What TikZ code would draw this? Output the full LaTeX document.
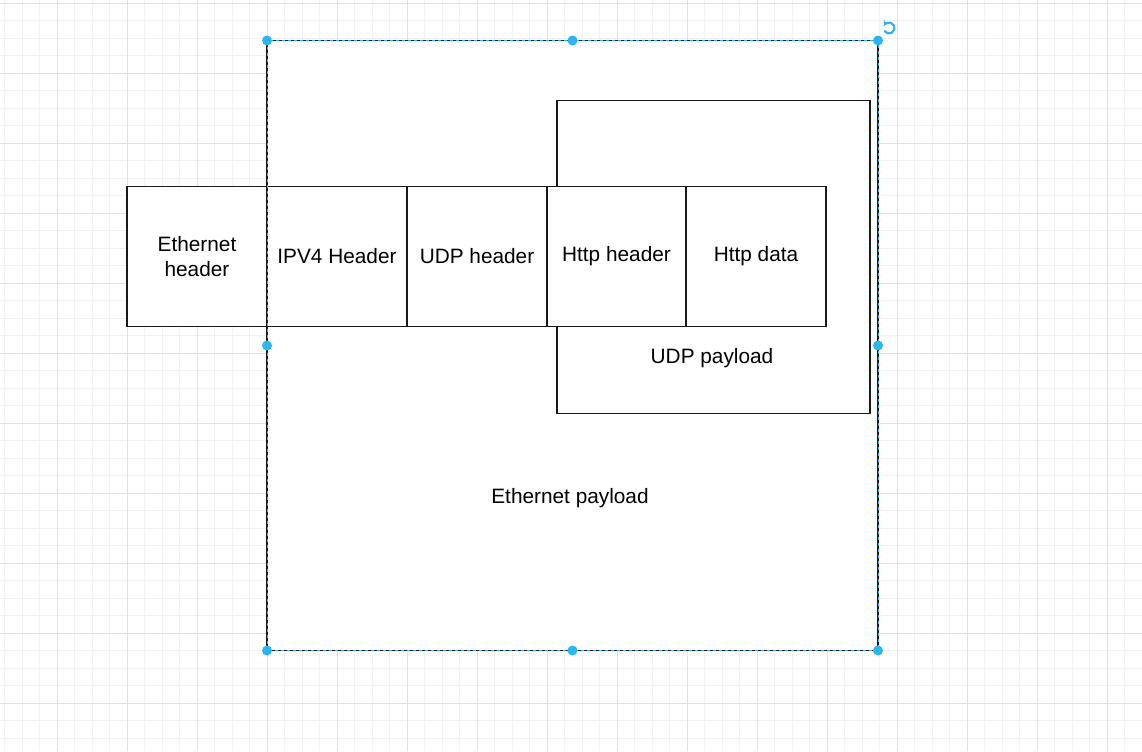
\documentclass[tikz,border=0pt]{standalone}
\usepackage{fontspec}
\setmainfont{Liberation Sans}
\usetikzlibrary{arrows.meta}
\definecolor{gridminor}{HTML}{F2F2F2}
\definecolor{gridmajor}{HTML}{E2E2E2}
\definecolor{selblue}{HTML}{29B6F2}
\tikzset{
  pktbox/.style={draw=black!90, line width=1.3pt, fill=white, inner sep=0pt, outer sep=0pt, anchor=north west},
  cell/.style={pktbox, minimum width=105pt, minimum height=105pt, align=center, font=\fontsize{15.6}{19}\selectfont},
  lbl/.style={inner sep=0pt, font=\fontsize{15.6}{19}\selectfont},
  handle/.style={circle, fill=selblue, inner sep=0pt, minimum size=7.5pt},
}
\begin{document}
\begin{tikzpicture}[x=0.75pt, y=-0.75pt]
\useasboundingbox (0,0) rectangle (1142,751);
\fill[white] (0,0) rectangle (1142,751);
% grid
\foreach \i in {0,...,65} {
  \draw[gridminor, line width=0.75pt] ({4.8+17.5*\i},0) -- ({4.8+17.5*\i},751);
}
\foreach \j in {0,...,43} {
  \draw[gridminor, line width=0.75pt] (0,{3.3+17.5*\j}) -- (1142,{3.3+17.5*\j});
}
\foreach \i in {0,...,16} {
  \draw[gridmajor, line width=0.75pt] ({57.3+70*\i},0) -- ({57.3+70*\i},751);
}
\foreach \j in {0,...,10} {
  \draw[gridmajor, line width=0.75pt] (0,{3.3+70*\j}) -- (1142,{3.3+70*\j});
}
% Ethernet payload
\node[pktbox, minimum width=458.25pt, minimum height=457.5pt] (ethpay) at (267,40.5) {};
\node[lbl] (ethpaylbl) at (570,498) {Ethernet payload};
% UDP payload
\node[pktbox, minimum width=234.75pt, minimum height=234.75pt] (udppay) at (557,100.5) {};
\node[lbl] (udppaylbl) at (712,358) {UDP payload};
% header cells
\node[cell] (ethhdr) at (127,186.5) {Ethernet\\[-0.5pt]header};
\node[cell] (ipv4) at (267,186.5) {IPV4 Header};
\node[cell] (udphdr) at (407,186.5) {UDP header};
\node[cell, minimum width=104.25pt] (httphdr) at (547,186.5) {Http header};
\node[cell] (httpdata) at (686,186.5) {Http data};
% selection overlay
\draw[selblue, line width=0.75pt, dash pattern=on 2.25pt off 2.25pt] (ethpay.north west) rectangle (ethpay.south east);
\foreach \p in {north west, north, north east, west, east, south west, south, south east} {
  \node[handle] at (ethpay.\p) {};
}
% rotate icon
\coordinate (rot) at (889,28);
\draw[selblue, line width=1.6pt, -{Stealth[length=3.5pt,width=5pt]}] ([shift={(150:5.5)}]rot) arc[start angle=150, end angle=-150, radius=5.5];
\end{tikzpicture}
\end{document}
